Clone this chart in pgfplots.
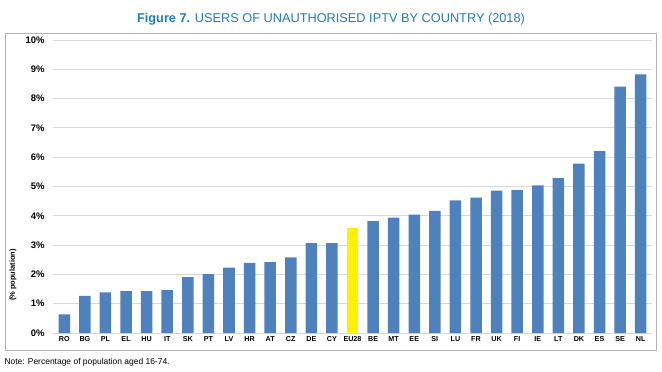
\documentclass[border=0pt]{standalone}
\usepackage{pgfplots}
\pgfplotsset{compat=1.18}
\usepackage{fontspec}
\setmainfont{Liberation Sans}
\definecolor{barblue}{HTML}{4F81BD}
\definecolor{titleblue}{HTML}{1F7BC0}
\definecolor{gridgray}{HTML}{D9D9D9}
\begin{document}
\begin{tikzpicture}[x=1bp,y=1bp]
\path (0,0) rectangle (662,371);
\draw[color=black!30, line width=0.8bp] (5,21) rectangle (656,338);
\node[text=titleblue, font=\fontsize{12.8}{14}\selectfont] at (331,352) {\textbf{Figure 7.} USERS OF UNAUTHORISED IPTV BY COUNTRY (2018)};
\node[anchor=west, font=\fontsize{8.5}{9}\selectfont] at (1,9) {Note: Percentage of population aged 16-74.};
\node[rotate=90, font=\bfseries\fontsize{7.5}{8}\selectfont] at (13,96) {(\% population)};
\begin{axis}[
  at={(53bp,38bp)}, anchor=south west,
  scale only axis, width=599bp, height=293bp,
  ymin=0, ymax=10, xmin=-0.55, xmax=28.55,
  ytick={0,1,...,10},
  yticklabel={\pgfmathprintnumber{\tick}\%},
  /pgf/number format/assume math mode=true,
  yticklabel style={font=\bfseries\fontsize{9.5}{10}\selectfont, xshift=-5bp},
  xtick={0,1,...,28},
  xticklabels={RO,BG,PL,EL,HU,IT,SK,PT,LV,HR,AT,CZ,DE,CY,EU28,BE,MT,EE,SI,LU,FR,UK,FI,IE,LT,DK,ES,SE,NL},
  xticklabel style={font=\bfseries\fontsize{7.2}{8}\selectfont, yshift=0bp},
  ymajorgrids, grid style={gridgray, line width=0.8bp},
  axis line style={draw=none},
  major tick length=0pt,
  clip=false,
]
\draw[gridgray, line width=0.8bp] (axis cs:-0.55,0) -- (axis cs:28.55,0);
\addplot[ybar, bar width=11.5bp, fill=barblue, draw=none] coordinates {
(0,0.64) (1,1.27) (2,1.39) (3,1.43) (4,1.43) (5,1.46) (6,1.91) (7,2.01) (8,2.23) (9,2.39) (10,2.42) (11,2.58) (12,3.07) (13,3.07)
(15,3.82) (16,3.94) (17,4.04) (18,4.17) (19,4.53) (20,4.62) (21,4.86) (22,4.88) (23,5.04) (24,5.29) (25,5.78) (26,6.21) (27,8.41) (28,8.83)
};
\addplot[ybar, bar width=11.5bp, fill=yellow, draw=none] coordinates {(14,3.58)};
\end{axis}
\end{tikzpicture}
\end{document}
